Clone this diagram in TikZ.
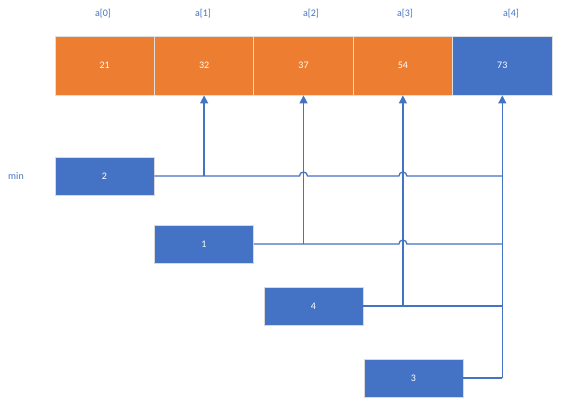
\documentclass[tikz,border=0pt]{standalone}
\usepackage{xcolor}
\usepackage{fontspec}
\setmainfont{Carlito}
\usepackage{tikz}
\usetikzlibrary{arrows.meta, calc}

\definecolor{cellorange}{HTML}{ED7D31}
\definecolor{cellblue}{HTML}{4472C4}
\definecolor{wireblue}{HTML}{4472C4}

\begin{document}
\begin{tikzpicture}[x=1pt, y=-1pt,
  cell/.style={draw=gray!25, line width=0.8pt, fill=cellorange, text=white, minimum width=99.4pt, minimum height=59pt, inner sep=0pt, font=\fontsize{10}{12}\selectfont},
  minbox/.style={draw=gray!30, line width=0.8pt, fill=cellblue, text=white, minimum width=99pt, minimum height=38pt, inner sep=0pt, font=\fontsize{10}{12}\selectfont},
  idx/.style={text=wireblue, font=\fontsize{10}{12}\selectfont},
  wire/.style={draw=wireblue, line width=1.3pt},
  pointer/.style={wire, -{Triangle[width=8pt,length=8pt]}}]
\useasboundingbox (0,0) rectangle (572,404);
% array cells
\node[cell] (c0) at (104.7,65.5) {21};
\node[cell] (c1) at (204.1,65.5) {32};
\node[cell] (c2) at (303.5,65.5) {37};
\node[cell] (c3) at (402.9,65.5) {54};
\node[cell, fill=cellblue] (c4) at (502.3,65.5) {73};
% index labels
\node[idx] (l0) at (103,14) {a[0]};
\node[idx] (l1) at (203,14) {a[1]};
\node[idx] (l2) at (311,14) {a[2]};
\node[idx] (l3) at (405,14) {a[3]};
\node[idx] (l4) at (511,14) {a[4]};
% min boxes
\node[idx] (lmin) at (16,176) {min};
\node[minbox] (b2) at (104.5,176) {2};
\node[minbox] (b1) at (204,244) {1};
\node[minbox] (b4) at (313.5,306) {4};
\node[minbox] (b3) at (413.5,378) {3};
% horizontal wires with hops
\draw[wire] (b2.east) -- ($(b2.east -| c2.south)+(-4,0)$) arc[start angle=180, end angle=360, radius=4]
  -- ($(b2.east -| c3.south)+(-4,0)$) arc[start angle=180, end angle=360, radius=4]
  -- (b2.east -| c4.south);
\draw[wire] (b1.east) -- ($(b1.east -| c3.south)+(-4,0)$) arc[start angle=180, end angle=360, radius=4]
  -- (b1.east -| c4.south);
\draw[wire] (b4.east) -- (b4.east -| c4.south);
\draw[wire] (b3.east) -- (b3.east -| c4.south);
% pointers up to the cells
\draw[pointer] (b2.east -| c1.south) -- (c1.south);
\draw[pointer] (b1.east -| c2.south) -- (c2.south);
\draw[pointer] (b4.east -| c3.south) -- (c3.south);
\draw[pointer] (b3.east -| c4.south) -- (c4.south);
\end{tikzpicture}
\end{document}
